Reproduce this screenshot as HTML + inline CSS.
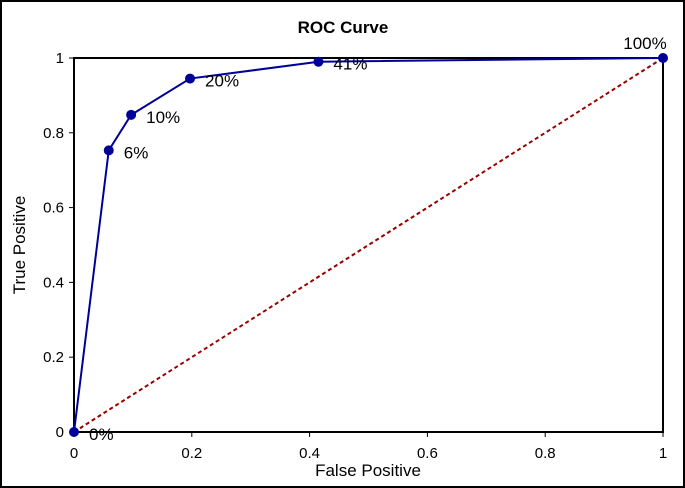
<!DOCTYPE html>
<html><head><meta charset="utf-8"><style>
html,body{margin:0;padding:0;background:#fff;}
svg{display:block;font-family:"Liberation Sans",Arial,sans-serif;}
</style></head><body>
<svg id="chart" width="685" height="488">
<rect x="1" y="1" width="683" height="486" fill="#fff" stroke="#000" stroke-width="2"/>
<text x="343" y="33" text-anchor="middle" font-size="17" font-weight="bold">ROC Curve</text>
<rect x="74" y="58" width="589" height="374" fill="none" stroke="#000" stroke-width="2"/>
<g id="axes"></g>
<line id="diag" stroke="#990000" stroke-width="2" stroke-dasharray="4,3"/>
<polyline id="curve" fill="none" stroke="#000099" stroke-width="2"/>
<g id="points"></g>
<text x="368" y="476" text-anchor="middle" font-size="17">False Positive</text>
<text transform="translate(25,245) rotate(-90)" text-anchor="middle" font-size="17">True Positive</text>
</svg>
<script>
const fpr = [0, 0.059, 0.097, 0.197, 0.415, 1];
const tpr = [0, 0.753, 0.848, 0.945, 0.99, 1];
const pointLabels = ["0%", "6%", "10%", "20%", "41%", "100%"];
const xTicks = [0, 0.2, 0.4, 0.6, 0.8, 1];
const yTicks = [0, 0.2, 0.4, 0.6, 0.8, 1];
const xTickLabels = ["0", "0.2", "0.4", "0.6", "0.8", "1"];
const yTickLabels = ["0", "0.2", "0.4", "0.6", "0.8", "1"];

const NS = "http://www.w3.org/2000/svg";
const X = v => 74 + v * 589;
const Y = v => 432 - v * 374;
function mk(tag, attrs, parent) {
  const e = document.createElementNS(NS, tag);
  for (const k in attrs) e.setAttribute(k, attrs[k]);
  parent.appendChild(e);
  return e;
}
const axes = document.getElementById("axes");
xTicks.forEach((t, i) => {
  const l = mk("line", {x1: X(t), x2: X(t), y1: 432, y2: 437, stroke: "#000"}, axes);
  
  
  const tx = mk("text", {x: X(t), y: 458, "text-anchor": "middle", "font-size": "15"}, axes);
  tx.textContent = xTickLabels[i];
  
  
});
yTicks.forEach((t, i) => {
  const l = mk("line", {x1: 69, x2: 74, y1: Y(t), y2: Y(t), stroke: "#000"}, axes);
  
  
  const tx = mk("text", {x: 64, y: Y(t) + 5, "text-anchor": "end", "font-size": "15"}, axes);
  tx.textContent = yTickLabels[i];
  
  
});
const d = document.getElementById("diag");
d.setAttribute("x1", X(0)); d.setAttribute("y1", Y(0));
d.setAttribute("x2", X(1)); d.setAttribute("y2", Y(1));
document.getElementById("curve").setAttribute("points", fpr.map((v, i) => X(v) + "," + Y(tpr[i])).join(" "));
const pts = document.getElementById("points");
fpr.forEach((v, i) => {
  const c = mk("circle", {cx: X(v), cy: Y(tpr[i]), r: 5, fill: "#000099"}, pts);
  
  
  const last = i === fpr.length - 1;
  const t = mk("text", {x: last ? X(v) - 18 : X(v) + 15, y: last ? Y(tpr[i]) - 9 : Y(tpr[i]) + 8, "text-anchor": last ? "middle" : "start", "font-size": "17"}, pts);
  t.textContent = pointLabels[i];
  
  
});
</script>
</body></html>
